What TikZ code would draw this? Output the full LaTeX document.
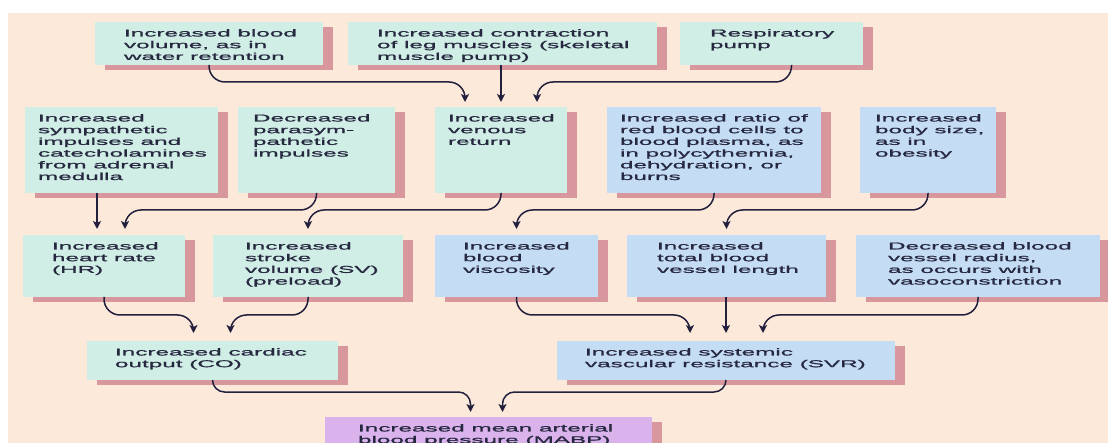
\documentclass[tikz,border=0pt]{standalone}
\usepackage{fontspec}
\setmainfont{Liberation Sans}[FakeStretch=2.43,FakeBold=1.2]
\usetikzlibrary{arrows.meta,shadows}
\definecolor{bgpeach}{HTML}{FCE9DA}
\definecolor{cmint}{HTML}{D0EEE6}
\definecolor{csky}{HTML}{C5DCF5}
\definecolor{clilac}{HTML}{DAB2EC}
\definecolor{cshade}{HTML}{D7979C}
\definecolor{cline}{HTML}{23203E}
\definecolor{ctext}{HTML}{262840}
\newcommand\bxfont{\fontsize{10pt}{11.7pt}\selectfont}
\newcommand\bxt[4]{\parbox[t][#2][t]{#1}{\leftskip=#3\relax\rightskip=0pt plus 1fil\relax\parindent=0pt\parfillskip=0pt plus 1fil\relax\vspace*{6.3pt}\strut #4}}
\tikzset{
  bx/.style={anchor=north west, inner sep=0pt, outer sep=0pt, text=ctext, font=\bxfont,
    drop shadow={shadow xshift=10pt, shadow yshift=-5pt, fill=cshade, opacity=1}},
  fillmint/.style={fill=cmint},
  fillsky/.style={fill=csky},
  filllilac/.style={fill=clilac},
  conn/.style={draw=cline, line width=1.5pt, rounded corners=16pt,
    -{Stealth[length=8pt,width=8pt,inset=2pt]}},
}
\begin{document}
\begin{tikzpicture}[x=1pt,y=-1pt]
\clip (0,0) rectangle (1108,443);
\fill[white] (0,0) rectangle (1108,443);
\fill[bgpeach] (8,13) rectangle (1108,443);

% row 1
\node[bx,fillmint] (B1) at (95,22) {\bxt{228pt}{43pt}{29pt}{Increased blood\\volume, as in\\water retention}};
\node[bx,fillmint] (B2) at (348,22) {\bxt{309pt}{43pt}{29pt}{Increased contraction\\of leg muscles (skeletal\\muscle pump)}};
\node[bx,fillmint] (B3) at (680,22) {\bxt{183pt}{43pt}{30pt}{Respiratory\\pump}};

% row 2
\node[bx,fillmint] (A1) at (25,107) {\bxt{193pt}{86pt}{13pt}{Increased\\sympathetic\\impulses and\\catecholamines\\from adrenal\\medulla}};
\node[bx,fillmint] (A2) at (238,107) {\bxt{157pt}{86pt}{15pt}{Decreased\\parasym-\\pathetic\\impulses}};
\node[bx,fillmint] (A3) at (435,107) {\bxt{132pt}{86pt}{13pt}{Increased\\venous\\return}};
\node[bx,fillsky] (A4) at (607,107) {\bxt{214pt}{86pt}{13pt}{Increased ratio of\\red blood cells to\\blood plasma, as\\in polycythemia,\\dehydration, or\\burns}};
\node[bx,fillsky] (A5) at (860,107) {\bxt{136pt}{86pt}{15pt}{Increased\\body size,\\as in\\obesity}};

% row 3
\node[bx,fillmint] (C1) at (23,235) {\bxt{162pt}{62pt}{29pt}{Increased\\heart rate\\(HR)}};
\node[bx,fillmint] (C2) at (213,235) {\bxt{190pt}{62pt}{32pt}{Increased\\stroke\\volume (SV)\\(preload)}};
\node[bx,fillsky] (C3) at (435,235) {\bxt{163pt}{62pt}{28pt}{Increased\\blood\\viscosity}};
\node[bx,fillsky] (C4) at (627,235) {\bxt{199pt}{62pt}{30pt}{Increased\\total blood\\vessel length}};
\node[bx,fillsky] (C5) at (856,235) {\bxt{244pt}{62pt}{32pt}{Decreased blood\\vessel radius,\\as occurs with\\vasoconstriction}};

% row 4
\node[bx,fillmint] (D1) at (87,341) {\bxt{251pt}{39pt}{28pt}{Increased cardiac\\output (CO)}};
\node[bx,fillsky] (D2) at (557,341) {\bxt{338pt}{39pt}{28pt}{Increased systemic\\vascular resistance (SVR)}};

% row 5
\node[bx,filllilac] (E) at (325,417) {\bxt{327pt}{44pt}{33pt}{Increased mean arterial\\blood pressure (MABP)}};

% connectors row 1 -> row 2
\draw[conn] (B1.south) |- ([xshift=-36pt,yshift=25pt]A3.north) -- ([xshift=-36pt,yshift=5pt]A3.north);
\draw[conn] (B2.south -| A3.north) -- ([yshift=5pt]A3.north);
\draw[conn] ([xshift=20pt]B3.south) |- ([xshift=36pt,yshift=25pt]A3.north) -- ([xshift=36pt,yshift=5pt]A3.north);

% row 2 -> row 3
\coordinate (hrin) at ([xshift=74pt]C1.north west);
\draw[conn] (hrin |- A1.south) -- ([yshift=6pt]hrin);
\draw[conn] (A2.south) |- ([xshift=102pt,yshift=25pt]C1.north west) -- ([xshift=102pt,yshift=6pt]C1.north west);
\draw[conn] (A3.south) |- ([yshift=25pt]C2.north) -- ([yshift=6pt]C2.north);
\draw[conn] (A4.south) |- ([yshift=25pt]C3.north) -- ([yshift=6pt]C3.north);
\draw[conn] (A5.south) |- ([yshift=25pt]C4.north) -- ([yshift=6pt]C4.north);

% row 3 -> row 4
\draw[conn] (C1.south) |- ([xshift=-19pt,yshift=26pt]D1.north) -- ([xshift=-19pt,yshift=8pt]D1.north);
\draw[conn] (C2.south) |- ([xshift=18pt,yshift=26pt]D1.north) -- ([xshift=18pt,yshift=8pt]D1.north);
\draw[conn] (C3.south) |- ([xshift=-36pt,yshift=26pt]D2.north) -- ([xshift=-36pt,yshift=8pt]D2.north);
\draw[conn] (D2.north |- C4.south) -- ([yshift=8pt]D2.north);
\draw[conn] (C5.south) |- ([xshift=37pt,yshift=26pt]D2.north) -- ([xshift=37pt,yshift=8pt]D2.north);

% row 4 -> row 5
\draw[conn,rounded corners=12pt] (D1.south) |- ([xshift=-18pt,yshift=25pt]E.north) -- ([xshift=-18pt,yshift=5pt]E.north);
\draw[conn,rounded corners=12pt] (D2.south) |- ([xshift=14pt,yshift=25pt]E.north) -- ([xshift=14pt,yshift=5pt]E.north);
\end{tikzpicture}
\end{document}
